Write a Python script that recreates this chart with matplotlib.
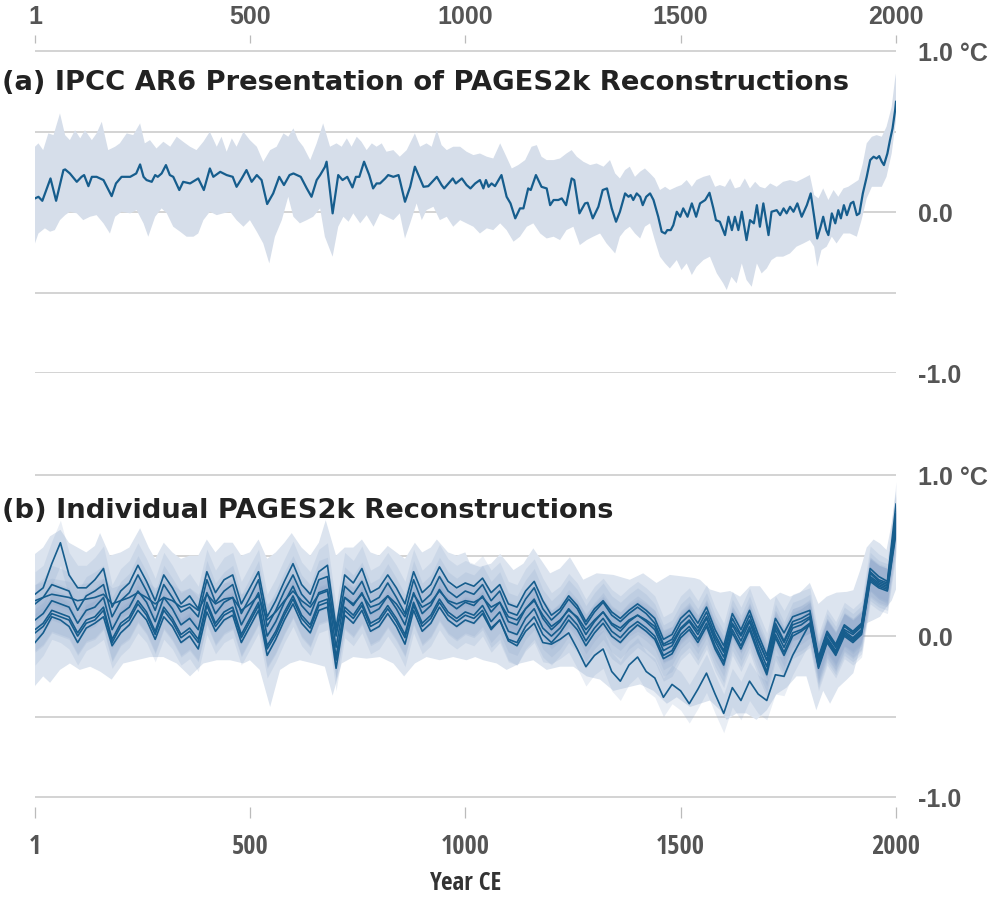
import numpy as np
import matplotlib
matplotlib.use("Agg")
import matplotlib.pyplot as plt

plt.rcParams["font.family"] = ["Liberation Sans", "DejaVu Sans"]

# ---------------------------------------------------------------
# (a) IPCC AR6 presentation: median + uncertainty band
# ---------------------------------------------------------------
years_a = [1, 9, 18, 37, 50, 67, 71, 82, 98, 109, 115, 125, 133, 144, 160, 179, 189, 202, 222, 236,
           245, 253, 260, 272, 280, 286, 295, 305, 314, 322, 336, 345, 361, 380, 393, 407, 415, 431, 446, 460,
           469, 481, 492, 504, 516, 527, 540, 554, 568, 579, 592, 601, 618, 632, 643, 655, 663, 674, 678, 692,
           705, 715, 726, 738, 746, 754, 765, 777, 786, 794, 802, 814, 821, 833, 845, 848, 860, 872, 883, 893,
           903, 914, 934, 945, 951, 961, 971, 978, 992, 1003, 1012, 1023, 1034, 1042, 1048, 1054, 1061, 1069, 1084, 1096,
           1105, 1116, 1127, 1135, 1146, 1152, 1164, 1177, 1189, 1197, 1205, 1216, 1224, 1234, 1247, 1253, 1265, 1278, 1284, 1296,
           1309, 1319, 1329, 1340, 1350, 1359, 1371, 1379, 1384, 1390, 1398, 1406, 1412, 1420, 1429, 1437, 1448, 1456, 1464, 1469,
           1477, 1483, 1491, 1499, 1506, 1516, 1526, 1536, 1545, 1557, 1567, 1576, 1582, 1591, 1603, 1611, 1619, 1626, 1634, 1642,
           1653, 1661, 1670, 1677, 1684, 1692, 1704, 1711, 1723, 1731, 1739, 1746, 1754, 1762, 1771, 1781, 1793, 1802, 1810, 1817,
           1825, 1831, 1838, 1843, 1851, 1859, 1866, 1872, 1879, 1886, 1895, 1901, 1909, 1915, 1923, 1932, 1940, 1948, 1955, 1961,
           1967, 1972, 1980, 1986, 1992, 1998, 2000]
temp_a = [0.085, 0.095, 0.07, 0.209, 0.07, 0.261, 0.265, 0.24, 0.188, 0.219, 0.23, 0.161, 0.219, 0.219, 0.199, 0.099, 0.178, 0.219, 0.219, 0.24,
          0.296, 0.219, 0.199, 0.188, 0.23, 0.219, 0.24, 0.292, 0.23, 0.219, 0.137, 0.188, 0.178, 0.209, 0.137, 0.271, 0.219, 0.25, 0.23, 0.219,
          0.157, 0.209, 0.261, 0.188, 0.23, 0.199, 0.05, 0.116, 0.219, 0.168, 0.23, 0.24, 0.219, 0.147, 0.095, 0.199, 0.23, 0.28, 0.313, -0.008,
          0.23, 0.199, 0.219, 0.153, 0.219, 0.219, 0.313, 0.23, 0.147, 0.178, 0.178, 0.209, 0.23, 0.219, 0.23, 0.199, 0.064, 0.157, 0.282, 0.219,
          0.157, 0.161, 0.219, 0.168, 0.147, 0.178, 0.209, 0.178, 0.209, 0.168, 0.147, 0.178, 0.199, 0.147, 0.199, 0.157, 0.178, 0.161, 0.23, 0.095,
          0.054, -0.039, 0.023, 0.023, 0.147, 0.137, 0.23, 0.157, 0.147, 0.043, 0.075, 0.075, 0.085, 0.043, 0.209, 0.199, -0.008, 0.054, 0.058, -0.039,
          0.033, 0.137, 0.147, 0.023, -0.06, 0.002, 0.116, 0.095, 0.106, 0.075, 0.116, 0.095, 0.043, 0.095, 0.116, 0.075, -0.029, -0.122, -0.133, -0.112,
          -0.112, -0.081, 0.002, -0.029, 0.023, -0.029, 0.054, -0.029, 0.054, 0.075, 0.12, 0.023, -0.05, -0.06, -0.143, -0.029, -0.112, -0.029, -0.112, 0.002,
          -0.174, -0.05, -0.07, 0.043, -0.091, 0.054, -0.143, 0.002, 0.012, -0.019, 0.023, -0.008, 0.033, 0.002, 0.054, -0.029, 0.043, 0.116, -0.029, -0.164,
          -0.091, -0.029, -0.112, -0.143, -0.008, -0.07, 0.012, -0.039, 0.043, -0.019, 0.054, 0.064, -0.019, -0.008, 0.116, 0.219, 0.323, 0.344, 0.333, 0.348,
          0.313, 0.292, 0.364, 0.447, 0.52, 0.634, 0.685]

years_a_hi = [1, 9, 20, 32, 44, 59, 71, 82, 94, 106, 117, 133, 144, 156, 171, 187, 198, 214, 229, 245,
              256, 268, 283, 299, 315, 330, 345, 361, 376, 392, 407, 423, 434, 446, 458, 469, 485, 500, 516, 531,
              547, 562, 578, 589, 601, 612, 624, 640, 655, 670, 686, 701, 713, 725, 736, 748, 759, 771, 783, 794,
              806, 817, 833, 848, 864, 883, 895, 910, 922, 934, 945, 957, 972, 988, 1003, 1019, 1034, 1050, 1065, 1081,
              1092, 1108, 1123, 1139, 1154, 1166, 1177, 1189, 1205, 1220, 1235, 1247, 1259, 1274, 1290, 1305, 1321, 1336, 1348, 1359,
              1371, 1382, 1394, 1406, 1417, 1429, 1440, 1452, 1464, 1475, 1491, 1502, 1514, 1526, 1537, 1553, 1568, 1580, 1591, 1603,
              1615, 1626, 1638, 1649, 1661, 1673, 1684, 1696, 1708, 1723, 1738, 1754, 1769, 1785, 1800, 1810, 1820, 1831, 1843, 1855,
              1866, 1878, 1889, 1901, 1913, 1923, 1932, 1944, 1955, 1967, 1978, 1990, 1998, 2000]
hi_a = [0.406, 0.427, 0.385, 0.489, 0.478, 0.613, 0.478, 0.447, 0.509, 0.458, 0.509, 0.447, 0.489, 0.561, 0.385, 0.406, 0.427, 0.489, 0.478, 0.551,
        0.427, 0.447, 0.395, 0.437, 0.406, 0.468, 0.437, 0.406, 0.385, 0.437, 0.499, 0.406, 0.468, 0.375, 0.458, 0.406, 0.499, 0.447, 0.406, 0.313,
        0.385, 0.406, 0.489, 0.468, 0.52, 0.447, 0.406, 0.323, 0.427, 0.551, 0.406, 0.427, 0.406, 0.458, 0.406, 0.468, 0.437, 0.385, 0.427, 0.406,
        0.427, 0.375, 0.385, 0.344, 0.385, 0.489, 0.406, 0.427, 0.406, 0.509, 0.416, 0.385, 0.406, 0.406, 0.375, 0.354, 0.364, 0.344, 0.333, 0.427,
        0.364, 0.271, 0.292, 0.323, 0.406, 0.416, 0.344, 0.323, 0.323, 0.333, 0.364, 0.385, 0.344, 0.313, 0.292, 0.302, 0.282, 0.323, 0.24, 0.209,
        0.261, 0.282, 0.219, 0.251, 0.271, 0.24, 0.209, 0.137, 0.157, 0.137, 0.157, 0.168, 0.199, 0.157, 0.199, 0.219, 0.23, 0.157, 0.168, 0.157,
        0.209, 0.147, 0.157, 0.209, 0.147, 0.188, 0.157, 0.147, 0.178, 0.157, 0.188, 0.199, 0.188, 0.209, 0.23, 0.106, 0.085, 0.147, 0.075, 0.137,
        0.095, 0.147, 0.157, 0.178, 0.199, 0.302, 0.427, 0.468, 0.478, 0.468, 0.53, 0.654, 0.83, 0.861]

years_a_lo = [1, 9, 24, 36, 47, 59, 71, 82, 98, 113, 129, 144, 160, 175, 187, 202, 222, 237, 253, 264,
              280, 295, 307, 322, 338, 353, 369, 380, 392, 407, 423, 438, 454, 469, 485, 500, 516, 531, 545, 558,
              574, 589, 601, 616, 632, 647, 663, 674, 692, 705, 717, 729, 740, 756, 771, 787, 802, 817, 833, 848,
              860, 872, 887, 899, 910, 926, 941, 957, 972, 988, 1003, 1019, 1034, 1050, 1065, 1081, 1096, 1112, 1127, 1143,
              1158, 1174, 1189, 1205, 1220, 1235, 1251, 1266, 1282, 1297, 1313, 1328, 1348, 1359, 1371, 1382, 1394, 1406, 1417, 1429,
              1440, 1452, 1464, 1475, 1491, 1502, 1514, 1526, 1537, 1553, 1568, 1584, 1599, 1607, 1618, 1630, 1642, 1653, 1665, 1677,
              1688, 1700, 1711, 1723, 1738, 1754, 1769, 1785, 1800, 1810, 1817, 1827, 1839, 1851, 1862, 1878, 1893, 1909, 1920, 1932,
              1944, 1955, 1967, 1978, 1990, 1998, 2000]
lo_a = [-0.195, -0.133, -0.101, -0.122, -0.112, -0.05, -0.019, 0.002, -0.008, -0.05, -0.029, -0.019, -0.07, -0.133, -0.029, 0.002, -0.008, 0.012, -0.07, -0.153,
        -0.029, 0.023, -0.008, -0.091, -0.122, -0.153, -0.153, -0.133, -0.05, 0.002, -0.019, -0.008, 0.002, -0.05, -0.091, -0.05, -0.122, -0.195, -0.319, -0.153,
        -0.05, 0.095, -0.029, -0.07, -0.05, -0.029, 0.023, -0.153, -0.277, -0.091, -0.029, -0.06, -0.008, -0.07, -0.019, -0.091, -0.008, -0.029, -0.05, -0.008,
        -0.164, -0.07, 0.054, -0.05, 0.012, 0.033, -0.05, -0.029, -0.091, -0.05, -0.07, -0.091, -0.133, -0.101, -0.112, -0.07, -0.112, -0.184, -0.153, -0.091,
        -0.07, -0.133, -0.164, -0.153, -0.174, -0.112, -0.091, -0.205, -0.174, -0.153, -0.133, -0.195, -0.257, -0.153, -0.112, -0.091, -0.133, -0.164, -0.091, -0.07,
        -0.174, -0.277, -0.319, -0.35, -0.298, -0.36, -0.319, -0.391, -0.34, -0.298, -0.277, -0.381, -0.443, -0.484, -0.402, -0.443, -0.319, -0.422, -0.464, -0.319,
        -0.381, -0.35, -0.298, -0.277, -0.277, -0.257, -0.215, -0.195, -0.174, -0.215, -0.34, -0.236, -0.215, -0.153, -0.195, -0.133, -0.133, -0.153, -0.05, 0.085,
        0.157, 0.157, 0.157, 0.219, 0.364, 0.53, 0.571]

# ---------------------------------------------------------------
# (b) individual PAGES2k reconstructions (20-year steps)
# ---------------------------------------------------------------
years_b = [1] + list(range(20, 2001, 20))

recon_1 = [0.26, 0.30, 0.45, 0.58, 0.38, 0.30, 0.30, 0.35, 0.42, 0.18,
           0.28, 0.33, 0.44, 0.34, 0.22, 0.38, 0.30, 0.20, 0.25, 0.17,
           0.40, 0.27, 0.35, 0.38, 0.20, 0.30, 0.40, 0.12, 0.22, 0.34,
           0.45, 0.32, 0.26, 0.40, 0.44, 0.05, 0.38, 0.33, 0.42, 0.27,
           0.30, 0.38, 0.30, 0.20, 0.40, 0.27, 0.32, 0.43, 0.34, 0.30,
           0.33, 0.31, 0.36, 0.27, 0.32, 0.20, 0.18, 0.28, 0.34, 0.22,
           0.13, 0.17, 0.25, 0.19, 0.09, 0.17, 0.22, 0.15, 0.11, 0.16,
           0.20, 0.16, 0.11, -0.02, 0.01, 0.11, 0.16, 0.08, 0.18, 0.04,
           -0.06, 0.14, 0.04, 0.16, 0.01, -0.12, 0.11, 0.02, 0.12, 0.14,
           0.16, -0.13, 0.03, -0.05, 0.07, 0.03, 0.08, 0.42, 0.37, 0.34, 0.82]
recon_2 = [0.20, 0.24, 0.32, 0.30, 0.28, 0.16, 0.25, 0.28, 0.32, 0.12,
           0.22, 0.27, 0.38, 0.28, 0.16, 0.32, 0.24, 0.15, 0.18, 0.12,
           0.35, 0.21, 0.28, 0.32, 0.14, 0.24, 0.35, 0.06, 0.16, 0.28,
           0.38, 0.26, 0.20, 0.35, 0.37, 0.00, 0.31, 0.26, 0.34, 0.21,
           0.24, 0.33, 0.24, 0.14, 0.35, 0.21, 0.26, 0.37, 0.28, 0.24,
           0.28, 0.26, 0.32, 0.22, 0.28, 0.15, 0.13, 0.23, 0.30, 0.17,
           0.10, 0.15, 0.23, 0.17, 0.07, 0.15, 0.21, 0.13, 0.09, 0.14,
           0.18, 0.14, 0.08, -0.05, -0.02, 0.08, 0.13, 0.05, 0.15, 0.01,
           -0.09, 0.11, 0.01, 0.13, -0.02, -0.15, 0.08, -0.03, 0.09, 0.11,
           0.14, -0.15, 0.02, -0.06, 0.06, 0.02, 0.07, 0.40, 0.35, 0.33, 0.76]
recon_3 = [0.10, 0.14, 0.22, 0.20, 0.18, 0.08, 0.16, 0.18, 0.24, 0.04,
           0.14, 0.18, 0.28, 0.21, 0.09, 0.24, 0.17, 0.07, 0.11, 0.04,
           0.27, 0.14, 0.21, 0.24, 0.07, 0.17, 0.27, 0.00, 0.09, 0.21,
           0.31, 0.19, 0.13, 0.27, 0.29, -0.07, 0.24, 0.19, 0.27, 0.14,
           0.17, 0.25, 0.17, 0.07, 0.27, 0.14, 0.19, 0.29, 0.21, 0.17,
           0.21, 0.19, 0.25, 0.15, 0.21, 0.09, 0.07, 0.17, 0.23, 0.11,
           0.04, 0.09, 0.17, 0.11, 0.01, 0.09, 0.15, 0.07, 0.03, 0.09,
           0.13, 0.09, 0.04, -0.09, -0.06, 0.04, 0.09, 0.01, 0.11, -0.03,
           -0.13, 0.07, -0.03, 0.09, -0.06, -0.19, 0.04, -0.07, 0.05, 0.07,
           0.11, -0.17, -0.01, -0.09, 0.03, -0.01, 0.04, 0.37, 0.33, 0.31, 0.70]
recon_4 = [0.04, 0.08, 0.16, 0.14, 0.12, 0.02, 0.10, 0.12, 0.18, -0.02,
           0.08, 0.12, 0.22, 0.15, 0.03, 0.18, 0.11, 0.01, 0.05, -0.02,
           0.21, 0.08, 0.15, 0.18, 0.01, 0.11, 0.21, -0.06, 0.03, 0.15,
           0.25, 0.13, 0.07, 0.21, 0.23, -0.13, 0.18, 0.13, 0.21, 0.08,
           0.11, 0.19, 0.11, 0.01, 0.21, 0.08, 0.13, 0.23, 0.15, 0.11,
           0.15, 0.13, 0.19, 0.09, 0.15, 0.03, 0.01, 0.11, 0.17, 0.05,
           0.00, 0.05, 0.13, 0.07, -0.03, 0.05, 0.11, 0.03, -0.01, 0.05,
           0.09, 0.05, 0.00, -0.12, -0.09, 0.01, 0.06, -0.02, 0.08, -0.06,
           -0.16, 0.04, -0.06, 0.06, -0.09, -0.22, 0.01, -0.10, 0.02, 0.04,
           0.08, -0.19, -0.03, -0.11, 0.01, -0.03, 0.02, 0.35, 0.31, 0.29, 0.66]
recon_5 = [-0.04, 0.02, 0.12, 0.10, 0.06, -0.04, 0.05, 0.08, 0.12, -0.06,
           0.02, 0.07, 0.16, 0.10, -0.02, 0.12, 0.06, -0.04, 0.00, -0.08,
           0.15, 0.03, 0.10, 0.13, -0.04, 0.06, 0.16, -0.12, -0.02, 0.10,
           0.20, 0.08, 0.02, 0.16, 0.18, -0.20, 0.13, 0.08, 0.16, 0.03,
           0.06, 0.14, 0.06, -0.05, 0.16, 0.03, 0.08, 0.18, 0.10, 0.06,
           0.10, 0.08, 0.14, 0.04, 0.10, -0.02, -0.04, 0.06, 0.12, 0.01,
           -0.04, 0.02, 0.10, 0.04, -0.06, 0.02, 0.08, 0.00, -0.04, 0.02,
           0.07, 0.03, -0.02, -0.14, -0.11, -0.01, 0.04, -0.04, 0.06, -0.08,
           -0.18, 0.02, -0.08, 0.04, -0.11, -0.24, -0.01, -0.12, 0.00, 0.03,
           0.07, -0.20, -0.04, -0.12, 0.00, -0.04, 0.01, 0.34, 0.30, 0.28, 0.64]
recon_6 = [0.22, 0.24, 0.26, 0.25, 0.24, 0.22, 0.23, 0.24, 0.26, 0.20,
           0.22, 0.24, 0.27, 0.24, 0.20, 0.24, 0.22, 0.18, 0.20, 0.16,
           0.26, 0.20, 0.23, 0.24, 0.16, 0.20, 0.25, 0.10, 0.15, 0.22,
           0.28, 0.22, 0.18, 0.26, 0.28, 0.02, 0.24, 0.20, 0.26, 0.18,
           0.20, 0.25, 0.20, 0.12, 0.26, 0.18, 0.21, 0.28, 0.22, 0.20,
           0.22, 0.21, 0.24, 0.18, 0.21, 0.12, 0.10, 0.17, 0.22, 0.13,
           0.06, 0.10, 0.16, 0.12, 0.04, 0.10, 0.15, 0.08, 0.05, 0.10,
           0.13, 0.10, 0.06, -0.06, -0.04, 0.05, 0.10, 0.03, 0.12, -0.01,
           -0.10, 0.08, 0.00, 0.10, -0.03, -0.15, 0.06, -0.04, 0.07, 0.09,
           0.12, -0.14, 0.01, -0.07, 0.04, 0.01, 0.06, 0.39, 0.34, 0.32, 0.72]
recon_7 = [0.02, 0.06, 0.14, 0.12, 0.10, 0.00, 0.08, 0.10, 0.16, -0.04,
           0.06, 0.10, 0.20, 0.13, 0.01, 0.16, 0.09, -0.01, 0.03, -0.04,
           0.19, 0.06, 0.13, 0.16, -0.01, 0.09, 0.19, -0.08, 0.01, 0.13,
           0.23, 0.11, 0.05, 0.19, 0.21, -0.15, 0.16, 0.11, 0.19, 0.06,
           0.09, 0.17, 0.09, -0.01, 0.19, 0.06, 0.11, 0.21, 0.13, 0.09,
           0.13, 0.11, 0.16, 0.05, 0.10, -0.03, -0.06, 0.03, 0.08, -0.04,
           -0.05, -0.02, 0.02, -0.08, -0.19, -0.12, -0.08, -0.22, -0.28, -0.18,
           -0.13, -0.22, -0.26, -0.38, -0.30, -0.34, -0.42, -0.33, -0.23, -0.36,
           -0.48, -0.32, -0.40, -0.28, -0.36, -0.40, -0.24, -0.25, -0.12, -0.02,
           0.08, -0.18, -0.02, -0.10, 0.02, -0.02, 0.03, 0.36, 0.32, 0.30, 0.68]
recons_b = [recon_1, recon_2, recon_3, recon_4, recon_5, recon_6, recon_7]
# half-width of each reconstruction's own uncertainty band (degC)
halfwidth_b = [0.14, 0.12, 0.12, 0.13, 0.14, 0.10, 0.12]

# outer envelope of all the bands in (b)
years_b_hi = [1, 20, 36, 60, 80, 100, 120, 140, 152, 175, 200, 220, 245, 265, 280, 300, 320, 340, 360, 380,
              400, 420, 440, 460, 480, 500, 520, 540, 560, 580, 597, 620, 640, 660, 676, 700, 720, 740, 760, 780,
              800, 820, 840, 860, 883, 900, 920, 934, 960, 980, 1000, 1011, 1034, 1060, 1081, 1112, 1135, 1158, 1197, 1220,
              1243, 1274, 1305, 1344, 1382, 1413, 1444, 1475, 1506, 1533, 1545, 1568, 1592, 1615, 1638, 1661, 1684, 1708, 1731, 1754,
              1777, 1800, 1820, 1839, 1862, 1886, 1901, 1917, 1932, 1948, 1963, 1978, 1990, 2000]
hi_b = [0.51, 0.55, 0.62, 0.66, 0.58, 0.55, 0.52, 0.56, 0.64, 0.50, 0.52, 0.55, 0.67, 0.55, 0.48, 0.58, 0.52, 0.48, 0.50, 0.50,
        0.60, 0.52, 0.58, 0.58, 0.50, 0.52, 0.60, 0.48, 0.52, 0.58, 0.64, 0.55, 0.50, 0.58, 0.72, 0.50, 0.55, 0.55, 0.60, 0.52,
        0.50, 0.56, 0.52, 0.48, 0.58, 0.52, 0.55, 0.60, 0.52, 0.50, 0.52, 0.45, 0.43, 0.45, 0.51, 0.41, 0.45, 0.545, 0.39, 0.42,
        0.49, 0.35, 0.39, 0.38, 0.35, 0.39, 0.33, 0.38, 0.37, 0.36, 0.35, 0.29, 0.27, 0.28, 0.245, 0.31, 0.31, 0.225, 0.27, 0.245,
        0.27, 0.33, 0.20, 0.245, 0.27, 0.275, 0.285, 0.41, 0.55, 0.60, 0.575, 0.535, 0.70, 0.90]
years_b_lo = [1, 20, 36, 59, 82, 105, 129, 152, 179, 206, 237, 268, 299, 330, 361, 392, 423, 454, 485, 500,
              523, 547, 570, 593, 616, 647, 674, 692, 713, 740, 771, 802, 833, 858, 883, 910, 941, 972, 1003, 1023,
              1042, 1073, 1096, 1127, 1158, 1189, 1220, 1251, 1282, 1313, 1344, 1375, 1406, 1437, 1468, 1491, 1522, 1545, 1568, 1592,
              1607, 1630, 1653, 1676, 1700, 1723, 1746, 1769, 1792, 1815, 1831, 1847, 1866, 1886, 1901, 1917, 1932, 1948, 1963, 1978,
              1990, 2000]
lo_b = [-0.31, -0.25, -0.29, -0.21, -0.17, -0.21, -0.19, -0.22, -0.27, -0.17, -0.15, -0.13, -0.13, -0.17, -0.25, -0.17, -0.15, -0.15, -0.17, -0.15,
        -0.21, -0.44, -0.21, -0.17, -0.15, -0.17, -0.19, -0.37, -0.17, -0.13, -0.14, -0.13, -0.17, -0.25, -0.17, -0.13, -0.15, -0.13, -0.15, -0.13,
        -0.15, -0.17, -0.21, -0.17, -0.15, -0.21, -0.19, -0.19, -0.25, -0.27, -0.34, -0.32, -0.30, -0.34, -0.42, -0.38, -0.44, -0.42, -0.40, -0.46,
        -0.52, -0.48, -0.48, -0.52, -0.46, -0.36, -0.32, -0.25, -0.25, -0.46, -0.34, -0.42, -0.32, -0.27, -0.23, -0.07, 0.08, 0.10, 0.12, 0.18,
        0.22, 0.29]

year_ticks = [1, 500, 1000, 1500, 2000]
temp_ticks = [-1.0, -0.5, 0.0, 0.5, 1.0]
temp_ticklabels = ["-1.0", "", "0.0", "", "1.0 °C"]

LINE = "#165d8d"
BAND_A = "#d6deea"
BAND_B_OUT = "#dce4ef"
BAND_B_IN = "#8ca6cb"
GRID = "#c8c8c8"
TICK_TXT = "#555555"
NARROW = ["Liberation Sans Narrow", "Open Sans Condensed", "Liberation Sans"]
WIDE = ["DejaVu Sans"]


def style_axis(ax, ylim):
    ax.set_xlim(1, 2000)
    ax.set_ylim(*ylim)
    for sp in ax.spines.values():
        sp.set_visible(False)
    ax.set_yticks(temp_ticks)
    ax.set_yticklabels(temp_ticklabels)
    ax.yaxis.tick_right()
    ax.tick_params(axis="y", length=0, pad=16, labelsize=18, labelcolor=TICK_TXT)
    for lab in ax.get_yticklabels():
        lab.set_fontweight("bold")
    ax.grid(True, axis="y", color=GRID, linewidth=1.1)
    ax.set_axisbelow(True)
    ax.set_xticks(year_ticks)


def fit_width(fig, txt, width_px):
    # scale a text's font size so that it spans the given width in pixels
    renderer = fig.canvas.get_renderer()
    w = txt.get_window_extent(renderer).width
    txt.set_fontsize(txt.get_fontsize() * width_px / w)


fig = plt.figure(figsize=(10, 9.05), dpi=100)

# panel (a)
ax_a = fig.add_axes([0.035, 0.5878, 0.861, 0.3735])
style_axis(ax_a, (-1.0, 1.1))
ax_a.fill(np.r_[years_a_hi, years_a_lo[::-1]], np.r_[hi_a, lo_a[::-1]],
          color=BAND_A, lw=0, zorder=2)
ax_a.plot(years_a, temp_a, color=LINE, lw=1.6, zorder=3, solid_joinstyle="round")
ax_a.xaxis.tick_top()
ax_a.tick_params(axis="x", direction="in", length=6, width=0.9, color="#bbbbbb",
                 pad=4, labelsize=18, labelcolor=TICK_TXT)
for lab in ax_a.get_xticklabels():
    lab.set_fontweight("bold")

# panel (b)
ax_b = fig.add_axes([0.035, 0.0961, 0.861, 0.3878])
style_axis(ax_b, (-1.13, 1.05))
ax_b.fill(np.r_[years_b_hi, years_b_lo[::-1]], np.r_[hi_b, lo_b[::-1]],
          color=BAND_B_OUT, lw=0, zorder=2)
for rec, hw in zip(recons_b, halfwidth_b):
    rec = np.array(rec)
    ax_b.fill_between(years_b, rec - hw, rec + hw, color=BAND_B_IN, alpha=0.19, lw=0, zorder=2)
for rec in recons_b:
    ax_b.plot(years_b, rec, color=LINE, lw=1.2, zorder=3, solid_joinstyle="round")
ax_b.tick_params(axis="x", direction="in", length=8, width=0.9, color="#bbbbbb",
                 pad=11, labelsize=19, labelcolor=TICK_TXT)
for lab in ax_b.get_xticklabels():
    lab.set_family(NARROW)
    lab.set_fontweight("bold")
ax_b.set_xlabel("Year CE", fontsize=18, fontweight="bold", color="#333333", labelpad=8,
                family=NARROW)

# panel titles (wide lettering as in the original)
title_a = fig.text(0.002, 1 - 83 / 905, "(a) IPCC AR6 Presentation of PAGES2k Reconstructions",
                   ha="left", va="center", fontsize=18, fontweight="bold", color="#222222",
                   family=WIDE)
title_b = fig.text(0.002, 1 - 511 / 905, "(b) Individual PAGES2k Reconstructions",
                   ha="left", va="center", fontsize=18, fontweight="bold", color="#222222",
                   family=WIDE)
fit_width(fig, title_a, 850)
title_b.set_fontsize(title_a.get_fontsize())

fig.savefig("out.png", dpi=100)
